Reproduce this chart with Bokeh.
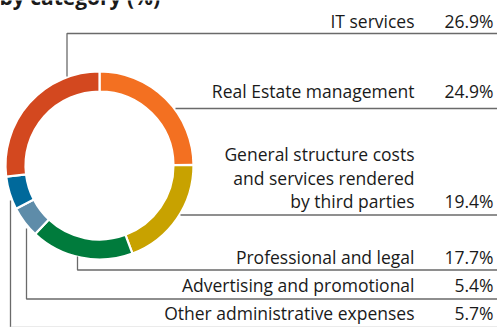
import math
from bokeh.plotting import figure
from bokeh.models import Range1d
from bokeh.core.properties import value
from bokeh.embed import file_html
from bokeh.resources import INLINE

# ---- data ----
title_text = "by category (%)"
categories = [
    "IT services",
    "Real Estate management",
    "General structure costs\nand services rendered\nby third parties",
    "Professional and legal",
    "Advertising and promotional",
    "Other administrative expenses",
]
shares = [26.9, 24.9, 19.4, 17.7, 5.4, 5.7]
value_labels = ["26.9%", "24.9%", "19.4%", "17.7%", "5.4%", "5.7%"]

# ---- styles / layout (pixel space 497 x 327) ----
colors = ["#D3481F", "#F37021", "#C8A200", "#007B3C", "#5E8CA9", "#00699B"]
draw_order = [1, 2, 3, 4, 5, 0]       # clockwise from 12 o'clock
cx, cy = 99, 165
r_out, r_in = 93, 75
label_right = 414
value_right = 493
label_baselines = [27, 97, [160, 183.5, 207], 263, 290.5, 319]
SHIFT = -6.5   # renderer places the alphabetic baseline lower; compensate
FONT = "Open Sans"
FS = "17.5px"
LINE = "#6a6a6a"

W, H = 497, 327

p = figure(width=W, height=H, output_backend="svg", toolbar_location=None,
           x_range=Range1d(0, W), y_range=Range1d(H, 0),
           min_border=0, outline_line_color=None)
p.axis.visible = False
p.grid.visible = False
p.background_fill_color = "white"
p.border_fill_color = "white"

# donut
total = sum(shares)
acc = 0.0
starts, ends, cols = [], [], []
for i in draw_order:
    a0 = acc / total * 360.0
    acc += shares[i]
    a1 = acc / total * 360.0
    starts.append(math.radians(90 - a1))
    ends.append(math.radians(90 - a0))
    cols.append(colors[i])
p.annular_wedge(x=[cx] * len(starts), y=[cy] * len(starts),
                inner_radius=r_in - 1, outer_radius=r_out + 1,
                inner_radius_units="screen", outer_radius_units="screen",
                start_angle=starts, end_angle=ends, direction="anticlock",
                fill_color=cols, line_color="white", line_width=2.2)

# leader lines
leaders = [
    ([66.5, 66.5, 497], [76, 33, 33]),
    ([175, 497], [108, 108]),
    ([180, 497], [214.5, 214.5]),
    ([77, 77, 497], [256, 269.5, 269.5]),
    ([26, 26, 497], [228, 298.5, 298.5]),
    ([10, 10], [200, 327]),
]
for xs, ys in leaders:
    p.line(xs, ys, line_color=LINE, line_width=1.3)
p.line([10, 497], [326.5, 326.5], line_color="#d8d8d8", line_width=1.2)

# labels
for i, cat in enumerate(categories):
    lines = cat.split("\n")
    bl = label_baselines[i]
    bls = [b + SHIFT for b in (bl if isinstance(bl, list) else [bl])]
    p.text(x=[label_right] * len(lines), y=bls, text=lines,
           text_align="right", text_baseline="alphabetic",
           text_font=value(FONT), text_font_size=FS, text_color="#1a1a1a")
    p.text(x=[value_right], y=[bls[-1]], text=[value_labels[i]],
           text_align="right", text_baseline="alphabetic",
           text_font=value(FONT), text_font_size=FS, text_color="#1a1a1a")

# title (cropped at the top edge, as in the source)
p.text(x=[-1], y=[3.3 + SHIFT], text=[title_text], text_align="left",
       text_baseline="alphabetic", text_font=value(FONT),
       text_font_size="21px", text_font_style="bold", text_color="#1a1a1a")

open("out.html", "w").write(file_html(p, INLINE))
